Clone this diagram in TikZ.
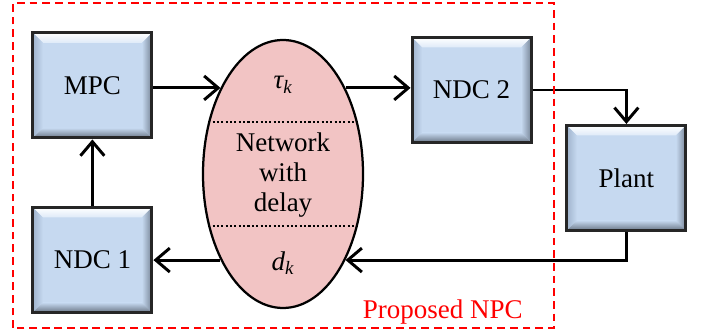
\documentclass[tikz,border=0pt]{standalone}
\usepackage{fontspec}
\setmainfont{Liberation Serif}
\usetikzlibrary{arrows.meta,shapes.geometric}

\definecolor{boxface}{RGB}{198,217,240}
\definecolor{boxtop}{RGB}{222,234,248}
\definecolor{boxleft}{RGB}{160,180,205}
\definecolor{boxright}{RGB}{120,134,152}
\definecolor{boxbottom}{RGB}{105,117,133}
\definecolor{netpink}{RGB}{242,196,196}
\definecolor{npcred}{RGB}{255,0,0}

\tikzset{
  blockbox/.style={rectangle, draw=black!85, line width=2.2pt, fill=boxface,
    minimum width=2.975cm, minimum height=2.625cm, inner sep=0pt,
    font=\fontsize{19.2}{22}\selectfont,
    path picture={
      \def\bw{0.25cm}
      \path (path picture bounding box.south west) coordinate (bsw)
            (path picture bounding box.north east) coordinate (bne)
            (path picture bounding box.north west) coordinate (bnw)
            (path picture bounding box.south east) coordinate (bse);
      % bevel edges
      \shade[top color=white, bottom color=boxtop] (bnw) -- (bne) -- ([shift={(-\bw,-\bw)}]bne) -- ([shift={(\bw,-\bw)}]bnw) -- cycle;
      \shade[left color=boxleft, right color=boxface] (bnw) -- ([shift={(\bw,-\bw)}]bnw) -- ([shift={(\bw,\bw)}]bsw) -- (bsw) -- cycle;
      \shade[left color=boxface, right color=boxright] (bne) -- ([shift={(-\bw,-\bw)}]bne) -- ([shift={(-\bw,\bw)}]bse) -- (bse) -- cycle;
      \shade[top color=boxface, bottom color=boxbottom] (bsw) -- ([shift={(\bw,\bw)}]bsw) -- ([shift={(-\bw,\bw)}]bse) -- (bse) -- cycle;
    }},
  netell/.style={ellipse, draw=black, line width=1.6pt, fill=netpink,
    minimum width=4cm, minimum height=6.7cm, inner sep=0pt},
  netlabel/.style={font=\fontsize{19.2}{21.3}\selectfont, align=center},
  link/.style={line width=2.1pt, -{Straight Barb[length=10pt,width=17pt]}},
}

\begin{document}
\begin{tikzpicture}
  \useasboundingbox (0,0) rectangle (17.675,8.325);

  \node[blockbox] at (2.31,6.19) (mpc) {MPC};
  \node[blockbox] at (2.31,1.825) (ndc1) {NDC 1};
  \node[blockbox] at (11.79,6.075) (ndc2) {NDC 2};
  \node[blockbox] at (15.66,3.875) (plant) {Plant};

  \node[netell] at (7.075,3.975) (net) {};
  \node[netlabel] at (7.075,6.2) (tau) {\textit{τ\textsubscript{k}}};
  \node[netlabel] at (7.075,3.95) (nwd) {Network\\with\\delay};
  \node[netlabel] at (7.075,1.75) (dk) {\textit{d\textsubscript{k}}};
  \draw[line width=1.5pt, dash pattern=on 1.5pt off 1.6pt] (net.145) -- (net.35);
  \draw[line width=1.5pt, dash pattern=on 1.5pt off 1.6pt] (net.-145) -- (net.-35);

  \draw[link] (mpc.east |- net.126) -- (net.126);
  \draw[link] (net.54) -- (net.54 -| ndc2.west);
  \draw[link] (ndc2.east) -| (plant.north);
  \draw[link] (plant.south) |- (net.-54);
  \draw[link] (net.-126) -- (net.-126 -| ndc1.east);
  \draw[link] (ndc1.north) -- (mpc.south);

  % proposed scheme frame
  \draw[npcred, line width=1.4pt, dash pattern=on 5.5pt off 3.5pt] (0.325,0.125) rectangle (13.85,8.25);
  \node[netlabel, text=npcred] at (11.07,0.525) (npc) {Proposed NPC};
\end{tikzpicture}
\end{document}
